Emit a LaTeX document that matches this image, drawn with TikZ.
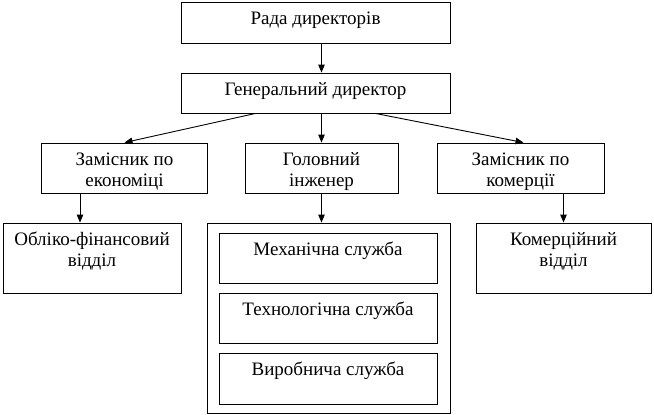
\documentclass[tikz,border=0pt]{standalone}
\usepackage{fontspec}
\setmainfont{Liberation Serif}
\newfontfamily\boxfont{Liberation Serif}
\usepackage{tikz}
\usetikzlibrary{arrows.meta}

\newcommand{\txt}[3]{\parbox[c][#2pt][t]{#1pt}{\centering\rule{0pt}{22pt}#3}}

\begin{document}
\begin{tikzpicture}[x=1pt,y=-1pt,line width=0.9pt,
  every node/.style={draw,inner sep=0pt,font=\boxfont\fontsize{19}{21}\selectfont},
  arr/.style={-{Triangle[length=8pt,width=6.5pt]}}]
\useasboundingbox (0,0) rectangle (654,415);

\node (1) at (315.5,22.5){\txt{269}{41}{Рада директорів}};
\node (2) at (315.5,93){\txt{269}{40}{Генеральний директор}};
\node (3) at (124.5,168){\txt{165.5}{50}{Замісник по\\економіці}};
\node (4) at (321.5,168){\txt{153}{50}{Головний\\інженер}};
\node (5) at (520.5,168){\txt{167}{50}{Замісник по\\комерції}};
\node (6) at (92,258){\txt{178}{70}{Обліко-фінансовий\\відділ}};
\node (7) at (328.5,318){\txt{243}{190}{}};
\node (8) at (563.5,258){\txt{175}{70}{Комерційний\\відділ}};
\node (9) at (328,258){\txt{218}{50}{Механічна служба}};
\node (10) at (328,318){\txt{218}{50}{Технологічна служба}};
\node (11) at (328,378.5){\txt{218}{51}{Виробнича служба}};
\draw[arr] (1.south -| 4) -- (2.north -| 4);
\draw[arr] ([xshift=-60pt]2.south) -- (3.north);
\draw[arr] (2.south -| 4) -- (4.north);
\draw[arr] ([xshift=60pt]2.south) -- ([xshift=3pt]5.north);
\draw[arr] ([xshift=-12pt]6.north |- 3.south) -- ([xshift=-12pt]6.north);
\draw[arr] (4.south) -- (4.south |- 7.north);
\draw[arr] (5.south -| 8) -- (8.north);

\end{tikzpicture}
\end{document}
